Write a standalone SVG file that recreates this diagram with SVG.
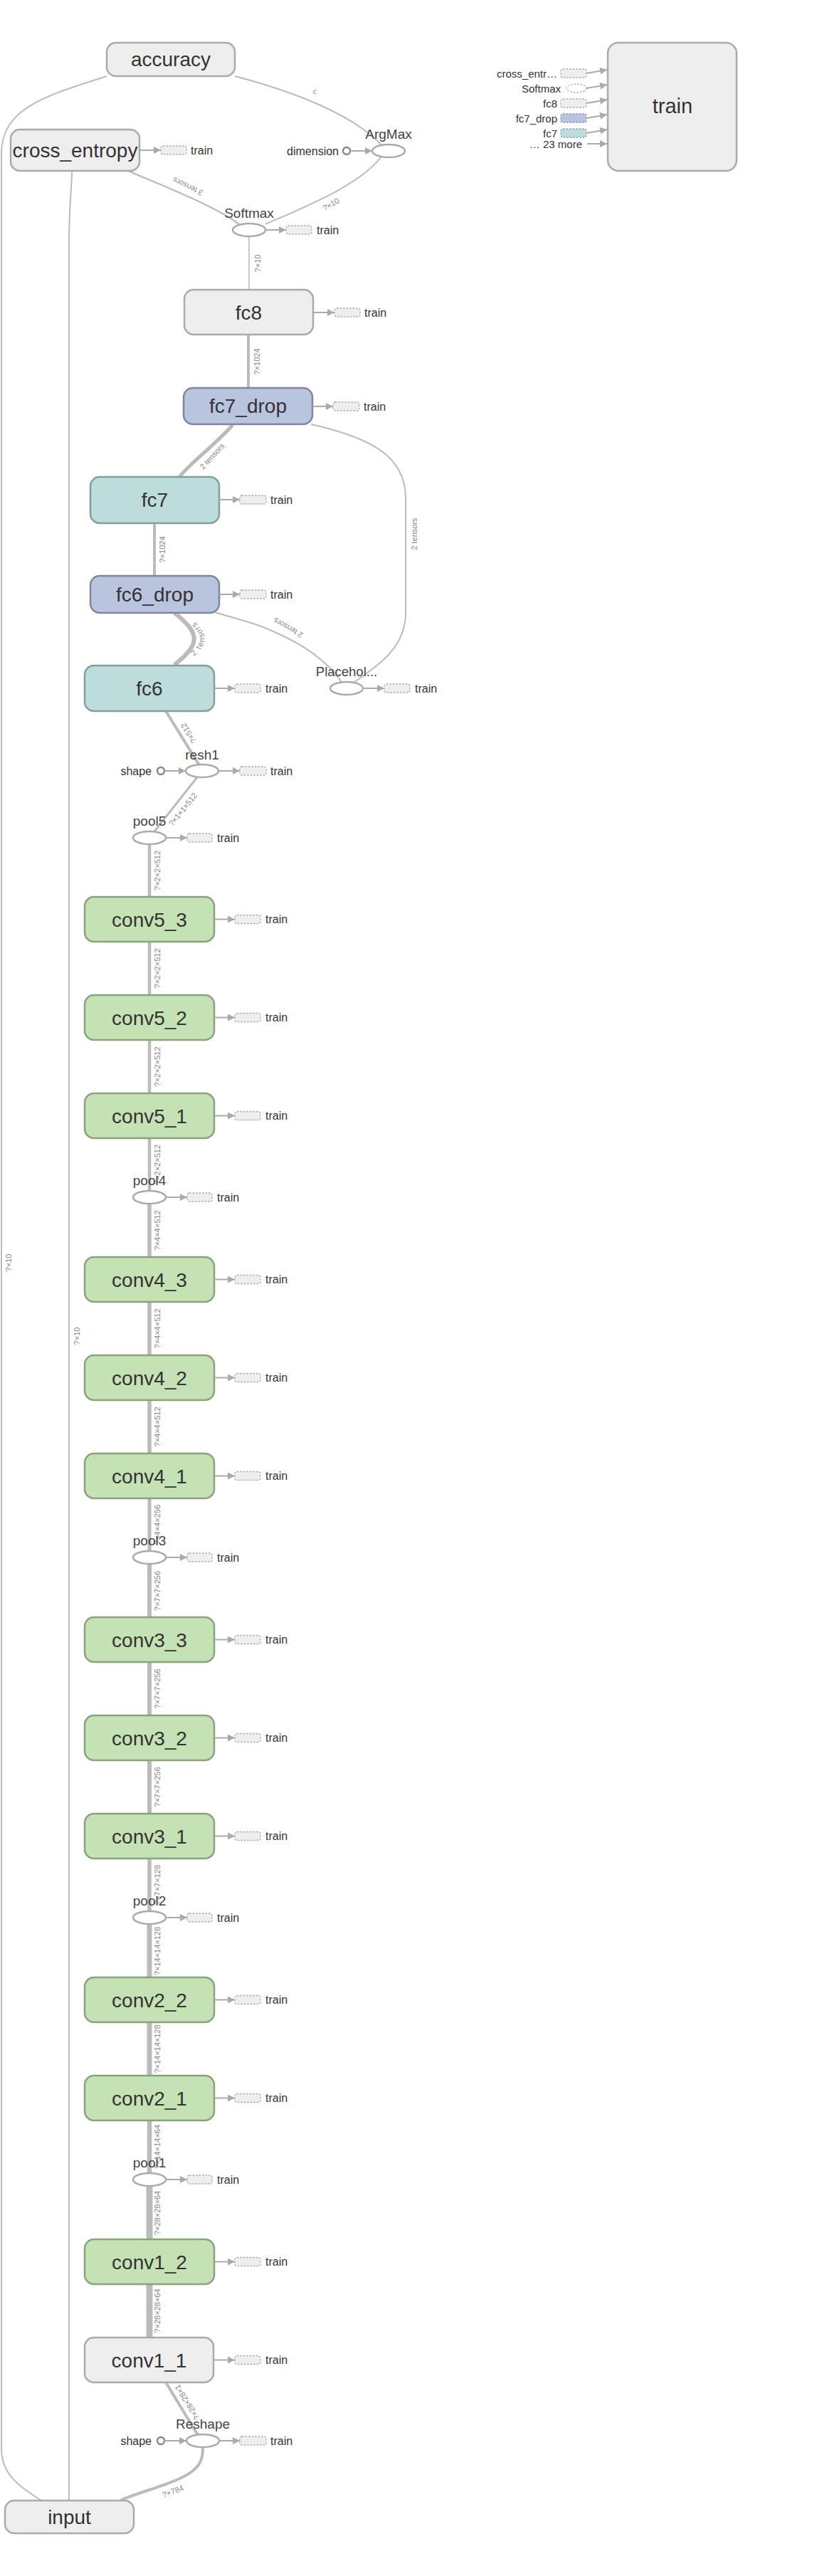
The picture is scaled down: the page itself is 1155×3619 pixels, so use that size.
<svg xmlns="http://www.w3.org/2000/svg" xmlns:xlink="http://www.w3.org/1999/xlink" width="1155" height="3619" viewBox="0 0 1155 3619">
<style>
text{font-family:"Liberation Sans",Arial,sans-serif}
.e{fill:none;stroke:#bbb;stroke-linecap:butt}
.el{font-size:11px;fill:#888;text-anchor:middle}
.box{stroke-width:2.5}
.gray{fill:#eee;stroke:#aaa}
.green{fill:#c5e2b5;stroke:#8aa27e}
.blue{fill:#b9c4de;stroke:#7f889b}
.teal{fill:#bddcdc;stroke:#849e9e}
.op{fill:#fff;stroke:#aaa;stroke-width:2.5}
.cst{fill:#fff;stroke:#888;stroke-width:2.5}
.lbl{font-size:28px;fill:#333;text-anchor:middle}
.ol{font-size:19px;fill:#444;text-anchor:middle}
.sm{font-size:16px;fill:#333}
.smr{font-size:16px;fill:#333;text-anchor:end}
.tl{font-size:15px;fill:#333;text-anchor:end}
.ar{stroke:#aaa;stroke-width:2;fill:none}
.mb{fill:#eee;stroke:#aaa;stroke-width:1.3;stroke-dasharray:2.5 2}
</style>
<defs>
<marker id="ah" markerUnits="userSpaceOnUse" markerWidth="10" markerHeight="10" refX="10" refY="5" orient="auto">
<path d="M0,0 L10,5 L0,10 z" fill="#aaa"/>
</marker>
<path id="tp1" d="M258,934 C297,905 297,890 258,861"/>
</defs>
<rect width="1155" height="3619" fill="#fff"/>

<g id="connectors">
<!-- input -> accuracy -->
<path class="e" stroke-width="2" d="M58,3513 C30,3495 2,3478 2,3440 L2,215 C2,150 70,133 150,107"/>
<text class="el" transform="translate(12,1774) rotate(-90)" dy="0.35em">?×10</text>
<!-- input -> cross_entropy -->
<path class="e" stroke-width="2" d="M97,3513 L97,340 C97,290 101,260 101,240"/>
<text class="el" transform="translate(108.5,1877) rotate(-90)" dy="0.35em">?×10</text>
<!-- ArgMax -> accuracy -->
<path class="e" stroke-width="2" d="M535,203 C495,160 410,128 330,107"/>
<text class="el" transform="translate(443,128) rotate(203)" dy="0.35em">?</text>
<!-- Softmax -> ArgMax -->
<path class="e" stroke-width="2" d="M373,315 C430,290 505,260 535,221"/>
<text class="el" transform="translate(465,287) rotate(-30)" dy="0.35em">?×10</text>
<!-- Softmax -> cross_entropy -->
<path class="e" stroke-width="2.2" d="M336,315 C300,288 230,262 180,240"/>
<text class="el" transform="translate(264,262) rotate(206)" dy="0.35em">3 tensors</text>
<!-- fc8 -> Softmax -->
<path class="e" stroke-width="1.6" d="M350,407 L350,332"/>
<text class="el" transform="translate(362,370) rotate(-90)" dy="0.35em">?×10</text>
<!-- fc7_drop -> fc8 -->
<path class="e" stroke-width="4" d="M349,545 L349,470"/>
<text class="el" transform="translate(361,508) rotate(-90)" dy="0.35em">?×1024</text>
<!-- fc7 -> fc7_drop -->
<path class="e" stroke-width="5" d="M252,670 C270,648 300,627 327,597"/>
<text class="el" transform="translate(298,641) rotate(-47)" dy="0.35em">2 tensors</text>
<!-- Placeholder -> fc7_drop -->
<path class="e" stroke-width="2" d="M498,958 C540,930 570,905 570,860 L570,700 C570,640 520,615 437,596"/>
<text class="el" transform="translate(582,750) rotate(-90)" dy="0.35em">2 tensors</text>
<!-- fc6_drop -> fc7 -->
<path class="e" stroke-width="4" d="M217,809 L217,735"/>
<text class="el" transform="translate(228.5,772) rotate(-90)" dy="0.35em">?×1024</text>
<!-- fc6 -> fc6_drop -->
<path class="e" stroke-width="6" d="M245,934 C282,905 282,890 245,861"/>
<text class="el" letter-spacing="1.5"><textPath xlink:href="#tp1" href="#tp1" startOffset="50%">2 tensors</textPath></text>
<!-- Placeholder -> fc6_drop -->
<path class="e" stroke-width="2" d="M480,958 C460,930 430,905 367,880 C345,872 320,866 302,860"/>
<text class="el" transform="translate(405,882) rotate(210)" dy="0.35em">2 tensors</text>
<!-- resh1 -> fc6 -->
<path class="e" stroke-width="4" d="M280,1075 L233,999"/>
<text class="el" transform="translate(265,1030) rotate(238)" dy="0.35em">?×512</text>
<!-- pool5 -> resh1 -->
<path class="e" stroke-width="3" d="M217,1168 L277,1092"/>
<text class="el" transform="translate(257,1137) rotate(-51)" dy="0.35em">?×1×1×512</text>

<!-- conv chain -->
<path class="e" stroke-width="4.5" d="M210,1260 L210,1177"/>
<text class="el" transform="translate(221.5,1223) rotate(-90)" dy="0.35em">?×2×2×512</text>
<path class="e" stroke-width="4.5" d="M210,1398 L210,1323"/>
<text class="el" transform="translate(221.5,1360.5) rotate(-90)" dy="0.35em">?×2×2×512</text>
<path class="e" stroke-width="4.5" d="M210,1536 L210,1461"/>
<text class="el" transform="translate(221.5,1498.5) rotate(-90)" dy="0.35em">?×2×2×512</text>
<path class="e" stroke-width="4.5" d="M210,1682 L210,1599"/>
<text class="el" transform="translate(221.5,1636) rotate(-90)" dy="0.35em">?×2×2×512</text>
<path class="e" stroke-width="5.5" d="M210,1766 L210,1682"/>
<text class="el" transform="translate(221.5,1728.5) rotate(-90)" dy="0.35em">?×4×4×512</text>
<path class="e" stroke-width="5.5" d="M210,1904 L210,1829"/>
<text class="el" transform="translate(221.5,1866.5) rotate(-90)" dy="0.35em">?×4×4×512</text>
<path class="e" stroke-width="5.5" d="M210,2042 L210,1967"/>
<text class="el" transform="translate(221.5,2004.5) rotate(-90)" dy="0.35em">?×4×4×512</text>
<path class="e" stroke-width="5" d="M210,2188 L210,2105"/>
<text class="el" transform="translate(221.5,2142) rotate(-90)" dy="0.35em">?×4×4×256</text>
<path class="e" stroke-width="6" d="M210,2272 L210,2188"/>
<text class="el" transform="translate(221.5,2235) rotate(-90)" dy="0.35em">?×7×7×256</text>
<path class="e" stroke-width="6" d="M210,2410 L210,2335"/>
<text class="el" transform="translate(221.5,2372.5) rotate(-90)" dy="0.35em">?×7×7×256</text>
<path class="e" stroke-width="6" d="M210,2548 L210,2473"/>
<text class="el" transform="translate(221.5,2510.5) rotate(-90)" dy="0.35em">?×7×7×256</text>
<path class="e" stroke-width="5.5" d="M210,2694 L210,2611"/>
<text class="el" transform="translate(221.5,2648) rotate(-90)" dy="0.35em">?×7×7×128</text>
<path class="e" stroke-width="7" d="M210,2778 L210,2694"/>
<text class="el" transform="translate(221.5,2741) rotate(-90)" dy="0.35em">?×14×14×128</text>
<path class="e" stroke-width="7" d="M210,2916 L210,2841"/>
<text class="el" transform="translate(221.5,2878.5) rotate(-90)" dy="0.35em">?×14×14×128</text>
<path class="e" stroke-width="6.5" d="M210,3062 L210,2979"/>
<text class="el" transform="translate(221.5,3016) rotate(-90)" dy="0.35em">?×14×14×64</text>
<path class="e" stroke-width="9" d="M210,3146 L210,3062"/>
<text class="el" transform="translate(221.5,3109) rotate(-90)" dy="0.35em">?×28×28×64</text>
<path class="e" stroke-width="9" d="M210,3284 L210,3209"/>
<text class="el" transform="translate(221.5,3246.5) rotate(-90)" dy="0.35em">?×28×28×64</text>
<!-- Reshape -> conv1_1 -->
<path class="e" stroke-width="4" d="M278,3421 L233,3347"/>
<text class="el" transform="translate(263,3375) rotate(238)" dy="0.35em">?×28×28×1</text>
<!-- input -> Reshape -->
<path class="e" stroke-width="4" d="M170,3512 C215,3495 250,3487 270,3472 C283,3462 285,3452 285,3438"/>
<text class="el" transform="translate(243,3500) rotate(-20)" dy="0.35em">?×784</text>
</g>

<g id="node-accuracy">
<rect class="box gray" x="150" y="60" width="180" height="47" rx="13"/>
<text class="lbl" x="240" y="93">accuracy</text>
</g>

<g id="node-cross_entropy">
<rect class="box gray" x="15" y="182" width="181" height="58" rx="13"/>
<text class="lbl" x="105.5" y="221">cross_entropy</text>
<line class="ar" x1="196" y1="211" x2="226" y2="211" marker-end="url(#ah)"/>
<rect class="mb" x="226" y="205" width="36" height="12" rx="3"/>
<text class="sm" x="268" y="216.5">train</text>
</g>

<g id="node-ArgMax">
<ellipse class="op" cx="546" cy="212" rx="23" ry="9"/>
<text class="ol" x="546" y="195">ArgMax</text>
<circle class="cst" cx="487" cy="212" r="5"/>
<text class="smr" x="476" y="217.5">dimension</text>
<line class="ar" x1="492" y1="212" x2="523" y2="212" marker-end="url(#ah)"/>
</g>

<g id="node-Softmax">
<ellipse class="op" cx="350" cy="323" rx="23" ry="9"/>
<text class="ol" x="350" y="306">Softmax</text>
<line class="ar" x1="373" y1="323" x2="402" y2="323" marker-end="url(#ah)"/>
<rect class="mb" x="402" y="317" width="36" height="12" rx="3"/>
<text class="sm" x="445" y="328.5">train</text>
</g>

<g id="node-fc8">
<rect class="box gray" x="259" y="407" width="181" height="63" rx="13"/>
<text class="lbl" x="349.5" y="449">fc8</text>
<line class="ar" x1="440" y1="439" x2="470" y2="439" marker-end="url(#ah)"/>
<rect class="mb" x="470" y="433" width="36" height="12" rx="3"/>
<text class="sm" x="512" y="444.5">train</text>
</g>

<g id="node-fc7_drop">
<rect class="box blue" x="258" y="545" width="181" height="51" rx="13"/>
<text class="lbl" x="348.5" y="580">fc7_drop</text>
<line class="ar" x1="439" y1="571" x2="468" y2="571" marker-end="url(#ah)"/>
<rect class="mb" x="468" y="565" width="37" height="12" rx="3"/>
<text class="sm" x="511" y="576.5">train</text>
</g>

<g id="node-fc7">
<rect class="box teal" x="127" y="670" width="181" height="65" rx="13"/>
<text class="lbl" x="217.5" y="712">fc7</text>
<line class="ar" x1="308" y1="702" x2="337" y2="702" marker-end="url(#ah)"/>
<rect class="mb" x="337" y="696" width="37" height="12" rx="3"/>
<text class="sm" x="380" y="707.5">train</text>
</g>

<g id="node-fc6_drop">
<rect class="box blue" x="127" y="809" width="181" height="52" rx="13"/>
<text class="lbl" x="217.5" y="845">fc6_drop</text>
<line class="ar" x1="308" y1="835" x2="337" y2="835" marker-end="url(#ah)"/>
<rect class="mb" x="337" y="829" width="37" height="12" rx="3"/>
<text class="sm" x="380" y="840.5">train</text>
</g>

<g id="node-Placeholder">
<ellipse class="op" cx="487" cy="967" rx="23" ry="9"/>
<text class="ol" x="487" y="950" style="font-size:18.5px">Placehol...</text>
<line class="ar" x1="510" y1="967" x2="540" y2="967" marker-end="url(#ah)"/>
<rect class="mb" x="540" y="961" width="36" height="12" rx="3"/>
<text class="sm" x="583" y="972.5">train</text>
</g>

<g id="node-fc6">
<rect class="box teal" x="119" y="935" width="182" height="64" rx="13"/>
<text class="lbl" x="210" y="977">fc6</text>
<line class="ar" x1="301" y1="967" x2="330" y2="967" marker-end="url(#ah)"/>
<rect class="mb" x="330" y="961" width="36" height="12" rx="3"/>
<text class="sm" x="373" y="972.5">train</text>
</g>

<g id="node-resh1">
<ellipse class="op" cx="284" cy="1083" rx="23" ry="9"/>
<text class="ol" x="284" y="1067">resh1</text>
<circle class="cst" cx="226" cy="1083" r="5"/>
<text class="smr" x="213" y="1088.5">shape</text>
<line class="ar" x1="231" y1="1083" x2="261" y2="1083" marker-end="url(#ah)"/>
<line class="ar" x1="307" y1="1083" x2="337" y2="1083" marker-end="url(#ah)"/>
<rect class="mb" x="337" y="1077" width="37" height="12" rx="3"/>
<text class="sm" x="380" y="1088.5">train</text>
</g>

<g id="node-pool5">
<ellipse class="op" cx="210" cy="1177" rx="23" ry="9"/>
<text class="ol" x="210" y="1160">pool5</text>
<line class="ar" x1="233" y1="1177" x2="263" y2="1177" marker-end="url(#ah)"/>
<rect class="mb" x="263" y="1171" width="35" height="12" rx="3"/>
<text class="sm" x="305" y="1182.5">train</text>
</g>

<g id="node-conv5_3">
<rect class="box green" x="119" y="1260" width="182" height="63" rx="13"/>
<text class="lbl" x="210" y="1302">conv5_3</text>
<line class="ar" x1="301" y1="1291.5" x2="330" y2="1291.5" marker-end="url(#ah)"/>
<rect class="mb" x="330" y="1285.5" width="36" height="12" rx="3"/>
<text class="sm" x="373" y="1297">train</text>
</g>

<g id="node-conv5_2">
<rect class="box green" x="119" y="1398" width="182" height="63" rx="13"/>
<text class="lbl" x="210" y="1440">conv5_2</text>
<line class="ar" x1="301" y1="1429.5" x2="330" y2="1429.5" marker-end="url(#ah)"/>
<rect class="mb" x="330" y="1423.5" width="36" height="12" rx="3"/>
<text class="sm" x="373" y="1435">train</text>
</g>

<g id="node-conv5_1">
<rect class="box green" x="119" y="1536" width="182" height="63" rx="13"/>
<text class="lbl" x="210" y="1578">conv5_1</text>
<line class="ar" x1="301" y1="1567.5" x2="330" y2="1567.5" marker-end="url(#ah)"/>
<rect class="mb" x="330" y="1561.5" width="36" height="12" rx="3"/>
<text class="sm" x="373" y="1573">train</text>
</g>

<g id="node-pool4">
<ellipse class="op" cx="210" cy="1682" rx="23" ry="9"/>
<text class="ol" x="210" y="1665">pool4</text>
<line class="ar" x1="233" y1="1682" x2="263" y2="1682" marker-end="url(#ah)"/>
<rect class="mb" x="263" y="1676" width="35" height="12" rx="3"/>
<text class="sm" x="305" y="1687.5">train</text>
</g>

<g id="node-conv4_3">
<rect class="box green" x="119" y="1766" width="182" height="63" rx="13"/>
<text class="lbl" x="210" y="1808">conv4_3</text>
<line class="ar" x1="301" y1="1797.5" x2="330" y2="1797.5" marker-end="url(#ah)"/>
<rect class="mb" x="330" y="1791.5" width="36" height="12" rx="3"/>
<text class="sm" x="373" y="1803">train</text>
</g>

<g id="node-conv4_2">
<rect class="box green" x="119" y="1904" width="182" height="63" rx="13"/>
<text class="lbl" x="210" y="1946">conv4_2</text>
<line class="ar" x1="301" y1="1935.5" x2="330" y2="1935.5" marker-end="url(#ah)"/>
<rect class="mb" x="330" y="1929.5" width="36" height="12" rx="3"/>
<text class="sm" x="373" y="1941">train</text>
</g>

<g id="node-conv4_1">
<rect class="box green" x="119" y="2042" width="182" height="63" rx="13"/>
<text class="lbl" x="210" y="2084">conv4_1</text>
<line class="ar" x1="301" y1="2073.5" x2="330" y2="2073.5" marker-end="url(#ah)"/>
<rect class="mb" x="330" y="2067.5" width="36" height="12" rx="3"/>
<text class="sm" x="373" y="2079">train</text>
</g>

<g id="node-pool3">
<ellipse class="op" cx="210" cy="2188" rx="23" ry="9"/>
<text class="ol" x="210" y="2171">pool3</text>
<line class="ar" x1="233" y1="2188" x2="263" y2="2188" marker-end="url(#ah)"/>
<rect class="mb" x="263" y="2182" width="35" height="12" rx="3"/>
<text class="sm" x="305" y="2193.5">train</text>
</g>

<g id="node-conv3_3">
<rect class="box green" x="119" y="2272" width="182" height="63" rx="13"/>
<text class="lbl" x="210" y="2314">conv3_3</text>
<line class="ar" x1="301" y1="2303.5" x2="330" y2="2303.5" marker-end="url(#ah)"/>
<rect class="mb" x="330" y="2297.5" width="36" height="12" rx="3"/>
<text class="sm" x="373" y="2309">train</text>
</g>

<g id="node-conv3_2">
<rect class="box green" x="119" y="2410" width="182" height="63" rx="13"/>
<text class="lbl" x="210" y="2452">conv3_2</text>
<line class="ar" x1="301" y1="2441.5" x2="330" y2="2441.5" marker-end="url(#ah)"/>
<rect class="mb" x="330" y="2435.5" width="36" height="12" rx="3"/>
<text class="sm" x="373" y="2447">train</text>
</g>

<g id="node-conv3_1">
<rect class="box green" x="119" y="2548" width="182" height="63" rx="13"/>
<text class="lbl" x="210" y="2590">conv3_1</text>
<line class="ar" x1="301" y1="2579.5" x2="330" y2="2579.5" marker-end="url(#ah)"/>
<rect class="mb" x="330" y="2573.5" width="36" height="12" rx="3"/>
<text class="sm" x="373" y="2585">train</text>
</g>

<g id="node-pool2">
<ellipse class="op" cx="210" cy="2694" rx="23" ry="9"/>
<text class="ol" x="210" y="2677">pool2</text>
<line class="ar" x1="233" y1="2694" x2="263" y2="2694" marker-end="url(#ah)"/>
<rect class="mb" x="263" y="2688" width="35" height="12" rx="3"/>
<text class="sm" x="305" y="2699.5">train</text>
</g>

<g id="node-conv2_2">
<rect class="box green" x="119" y="2778" width="182" height="63" rx="13"/>
<text class="lbl" x="210" y="2820">conv2_2</text>
<line class="ar" x1="301" y1="2809.5" x2="330" y2="2809.5" marker-end="url(#ah)"/>
<rect class="mb" x="330" y="2803.5" width="36" height="12" rx="3"/>
<text class="sm" x="373" y="2815">train</text>
</g>

<g id="node-conv2_1">
<rect class="box green" x="119" y="2916" width="182" height="63" rx="13"/>
<text class="lbl" x="210" y="2958">conv2_1</text>
<line class="ar" x1="301" y1="2947.5" x2="330" y2="2947.5" marker-end="url(#ah)"/>
<rect class="mb" x="330" y="2941.5" width="36" height="12" rx="3"/>
<text class="sm" x="373" y="2953">train</text>
</g>

<g id="node-pool1">
<ellipse class="op" cx="210" cy="3062" rx="23" ry="9"/>
<text class="ol" x="210" y="3045">pool1</text>
<line class="ar" x1="233" y1="3062" x2="263" y2="3062" marker-end="url(#ah)"/>
<rect class="mb" x="263" y="3056" width="35" height="12" rx="3"/>
<text class="sm" x="305" y="3067.5">train</text>
</g>

<g id="node-conv1_2">
<rect class="box green" x="119" y="3146" width="182" height="63" rx="13"/>
<text class="lbl" x="210" y="3188">conv1_2</text>
<line class="ar" x1="301" y1="3177.5" x2="330" y2="3177.5" marker-end="url(#ah)"/>
<rect class="mb" x="330" y="3171.5" width="36" height="12" rx="3"/>
<text class="sm" x="373" y="3183">train</text>
</g>

<g id="node-conv1_1">
<rect class="box gray" x="119" y="3284" width="181" height="63" rx="13"/>
<text class="lbl" x="209.5" y="3326">conv1_1</text>
<line class="ar" x1="300" y1="3315.5" x2="330" y2="3315.5" marker-end="url(#ah)"/>
<rect class="mb" x="330" y="3309.5" width="36" height="12" rx="3"/>
<text class="sm" x="373" y="3321">train</text>
</g>

<g id="node-Reshape">
<ellipse class="op" cx="285" cy="3429" rx="23" ry="9"/>
<text class="ol" x="285" y="3412">Reshape</text>
<circle class="cst" cx="226" cy="3429" r="5"/>
<text class="smr" x="213" y="3434.5">shape</text>
<line class="ar" x1="231" y1="3429" x2="262" y2="3429" marker-end="url(#ah)"/>
<line class="ar" x1="308" y1="3429" x2="337" y2="3429" marker-end="url(#ah)"/>
<rect class="mb" x="337" y="3423" width="37" height="12" rx="3"/>
<text class="sm" x="380" y="3434.5">train</text>
</g>

<g id="node-input">
<rect class="box gray" x="7" y="3513" width="181" height="46" rx="13"/>
<text class="lbl" x="97.5" y="3546">input</text>
</g>

<g id="node-train">
<rect class="box gray" x="854" y="60" width="181" height="180" rx="15"/>
<text class="lbl" x="945" y="159" style="font-size:29px">train</text>
<text class="tl" x="783" y="108.5">cross_entr…</text>
<rect class="mb" x="788" y="97" width="36" height="12" rx="3"/>
<line class="ar" x1="824" y1="103" x2="853" y2="98" marker-end="url(#ah)"/>
<text class="tl" x="788" y="129.5">Softmax</text>
<ellipse cx="810" cy="124" rx="14" ry="6" fill="#fff" stroke="#aaa" stroke-width="1.3" stroke-dasharray="2.5 2"/>
<line class="ar" x1="824" y1="124" x2="853" y2="119" marker-end="url(#ah)"/>
<text class="tl" x="783" y="150.5">fc8</text>
<rect class="mb" x="788" y="139" width="36" height="12" rx="3"/>
<line class="ar" x1="824" y1="145" x2="853" y2="140" marker-end="url(#ah)"/>
<text class="tl" x="783" y="171.5">fc7_drop</text>
<rect x="788" y="160" width="36" height="12" rx="3" fill="#b9c4de" stroke="#8a93a6" stroke-width="1.3" stroke-dasharray="2.5 2"/>
<line class="ar" x1="824" y1="166" x2="853" y2="161" marker-end="url(#ah)"/>
<text class="tl" x="783" y="192.5">fc7</text>
<rect x="788" y="181" width="36" height="12" rx="3" fill="#bddcdc" stroke="#8aa3a3" stroke-width="1.3" stroke-dasharray="2.5 2"/>
<line class="ar" x1="824" y1="187" x2="853" y2="182" marker-end="url(#ah)"/>
<text class="tl" x="818" y="207.5">… 23 more</text>
<line class="ar" x1="825" y1="202" x2="853" y2="202" marker-end="url(#ah)"/>
</g>
</svg>
